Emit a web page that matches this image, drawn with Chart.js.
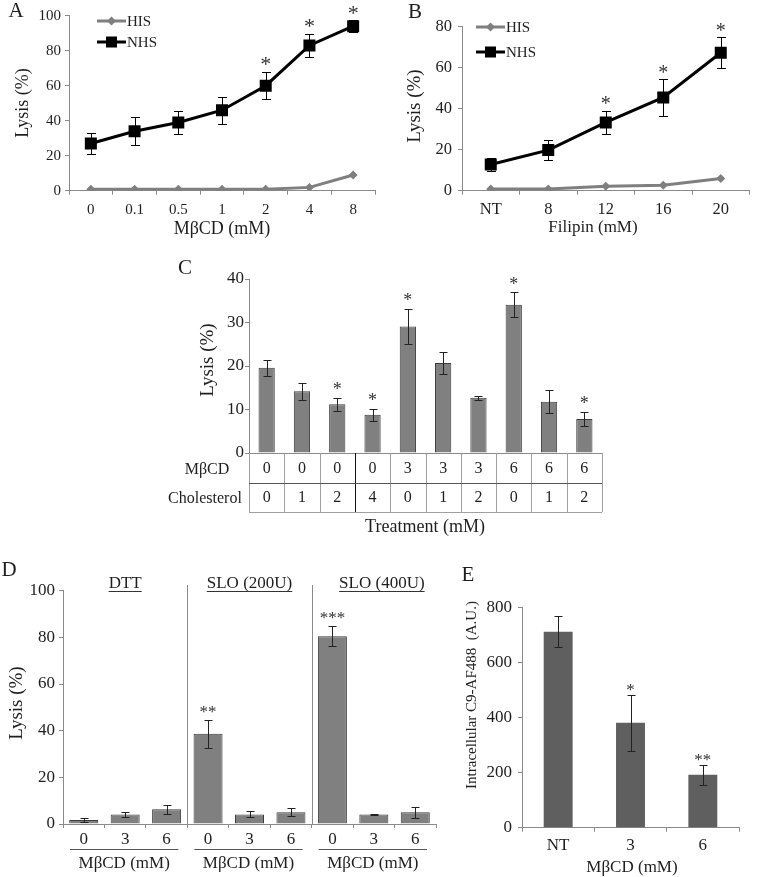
<!DOCTYPE html>
<html>
<head>
<meta charset="utf-8">
<script src="https://cdn.jsdelivr.net/npm/chart.js@4.4.0/dist/chart.umd.min.js"></script>
<style>
  html, body { margin: 0; padding: 0; background: #fff; }
  #wrap { position: relative; width: 758px; height: 877px; overflow: hidden; }
  #wrap canvas { position: absolute; left: 0; top: 0; }
</style>
</head>
<body>
<div id="wrap"></div>
<script>
// ---- data ----
const aLabels = ['0', '0.1', '0.5', '1', '2', '4', '8'];
const aHIS = [0.8, 0.8, 0.8, 0.8, 0.8, 1.9, 9];
const aNHS = [27, 34, 39, 46, 60, 83, 94];
const aNHSErr = [6, 8.1, 6.7, 7.6, 7.8, 6.5, 3.4];
const aStars = ['', '', '', '', '*', '*', '*'];

const bLabels = ['NT', '8', '12', '16', '20'];
const bHIS = [0.8, 0.8, 2.2, 2.7, 6];
const bNHS = [12.8, 19.8, 33.3, 45.5, 67.3];
const bNHSErr = [3.2, 4.9, 5.7, 8.9, 7.6];
const bStars = ['', '', '*', '*', '*'];

const cMbcd = ['0', '0', '0', '0', '3', '3', '3', '6', '6', '6'];
const cChol = ['0', '1', '2', '4', '0', '1', '2', '0', '1', '2'];
const cLysis = [19.6, 14.2, 11.2, 8.8, 29.1, 20.7, 12.7, 34.1, 11.8, 7.8];
const cErr = [1.8, 2.0, 1.5, 1.4, 4.0, 2.5, 0.5, 2.9, 2.6, 1.7];
const cStars = ['', '', '*', '*', '*', '', '', '*', '', '*'];

const dGroups = ['DTT', 'SLO (200U)', 'SLO (400U)'];
const dLabels = ['0', '3', '6', '0', '3', '6', '0', '3', '6'];
const dLysis = [1.7, 4.1, 6.3, 38.7, 4.1, 5.0, 80.5, 4.1, 5.0];
const dErr = [0.7, 1.0, 1.8, 6.0, 1.3, 1.7, 4.2, 0.3, 2.4];
const dStars = ['', '', '', '**', '', '', '***', '', ''];

const eLabels = ['NT', '3', '6'];
const eC9 = [713, 382, 193];
const eErr = [57, 102, 36];
const eStars = ['', '*', '**'];

// ---- common settings ----
const W = 758, H = 877;
const serif = "'Liberation Serif', 'Times New Roman', serif";
const textColor = '#1e1e1e';
const axisColor = '#8a8a8a';
const hisColor = '#7f7f7f';

Chart.defaults.font.family = serif;
Chart.defaults.color = textColor;
Chart.defaults.animation = false;
Chart.defaults.plugins.legend.display = false;
Chart.defaults.plugins.tooltip.enabled = false;

function makeCanvas(id) {
    const c = document.createElement('canvas');
    c.id = id;
    c.width = W;
    c.height = H;
    document.getElementById('wrap').appendChild(c);
    return c;
}

// put the plot area at a fixed place on the page
function frame(area, yW, xH) {
    return {
        padding: {
            left: area.left - yW,
            top: area.top,
            right: W - area.right,
            bottom: H - area.bottom - xH
        }
    };
}

function xAxis(size, pad, xH, showTicks) {
    return {
        type: 'category',
        offset: true,
        grid: { offset: true, drawOnChartArea: false, drawTicks: showTicks, tickLength: 4, color: axisColor },
        border: { color: axisColor, width: 1 },
        ticks: { display: showTicks, font: { size: size }, color: textColor, padding: pad, maxRotation: 0, autoSkip: false },
        afterFit: s => { s.height = xH; }
    };
}

function yAxis(max, step, size, pad, yW) {
    return {
        min: 0,
        max: max,
        grid: { drawOnChartArea: false, drawTicks: true, tickLength: 4, color: axisColor },
        border: { color: axisColor, width: 1 },
        ticks: { stepSize: step, font: { size: size }, color: textColor, padding: pad },
        afterFit: s => { s.width = yW; }
    };
}

function drawText(ctx, str, x, y, size, align) {
    ctx.save();
    ctx.font = size + 'px ' + serif;
    ctx.fillStyle = textColor;
    ctx.textAlign = align || 'center';
    ctx.textBaseline = 'middle';
    ctx.fillText(str, x, y);
    ctx.restore();
}

function drawVText(ctx, str, x, y, size) {
    ctx.save();
    ctx.translate(x, y);
    ctx.rotate(-Math.PI / 2);
    drawText(ctx, str, 0, 0, size);
    ctx.restore();
}

function drawErrors(chart, dsIndex, values, errs, cap, color) {
    const ctx = chart.ctx;
    const y = chart.scales.y;
    const meta = chart.getDatasetMeta(dsIndex);
    ctx.save();
    ctx.strokeStyle = color;
    ctx.lineWidth = 1;
    values.forEach((v, i) => {
        if (!errs[i]) return;
        const x = Math.round(meta.data[i].x) + 0.5;
        const top = Math.round(y.getPixelForValue(v + errs[i])) + 0.5;
        const bot = Math.round(y.getPixelForValue(v - errs[i])) + 0.5;
        ctx.beginPath();
        ctx.moveTo(x, top); ctx.lineTo(x, bot);
        ctx.moveTo(x - cap, top); ctx.lineTo(x + cap, top);
        ctx.moveTo(x - cap, bot); ctx.lineTo(x + cap, bot);
        ctx.stroke();
    });
    ctx.restore();
}

function drawStars(chart, dsIndex, values, errs, stars, gap, size) {
    const ctx = chart.ctx;
    const y = chart.scales.y;
    const meta = chart.getDatasetMeta(dsIndex);
    stars.forEach((s, i) => {
        if (!s) return;
        const centre = y.getPixelForValue(values[i] + errs[i]) - gap;
        ctx.save();
        ctx.font = size + 'px ' + serif;
        ctx.fillStyle = '#333';
        ctx.textAlign = 'center';
        ctx.textBaseline = 'alphabetic';
        // the asterisk glyph sits high in the em box
        ctx.fillText(s, meta.data[i].x, centre + 0.47 * size);
        ctx.restore();
    });
}

function drawLegend(chart, x0, x1, y0, dy, size) {
    const ctx = chart.ctx;
    chart.data.datasets.forEach((ds, k) => {
        const y = y0 + k * dy;
        const mx = (x0 + x1) / 2;
        ctx.save();
        ctx.strokeStyle = ds.borderColor;
        ctx.fillStyle = ds.backgroundColor;
        ctx.lineWidth = 3;
        ctx.beginPath();
        ctx.moveTo(x0, y);
        ctx.lineTo(x1, y);
        ctx.stroke();
        if (ds.pointStyle === 'rect') {
            ctx.fillRect(mx - 5.5, y - 5.5, 11, 11);
        } else {
            ctx.beginPath();
            ctx.moveTo(mx, y - 4.5); ctx.lineTo(mx + 4.5, y);
            ctx.lineTo(mx, y + 4.5); ctx.lineTo(mx - 4.5, y);
            ctx.closePath();
            ctx.fill();
        }
        ctx.restore();
        drawText(ctx, ds.label, x1 + 1, y + 1, size, 'left');
    });
}

function hisDataset(data) {
    return {
        label: 'HIS', data: data, borderColor: hisColor, backgroundColor: hisColor,
        borderWidth: 3, pointStyle: 'rectRot', pointRadius: 4.5, pointBorderWidth: 0, tension: 0
    };
}
function nhsDataset(data) {
    return {
        label: 'NHS', data: data, borderColor: '#000', backgroundColor: '#000',
        borderWidth: 3, pointStyle: 'rect', pointRadius: 8.5, pointBorderWidth: 0, tension: 0
    };
}

function buildCharts() {
    // ---- A ----
    new Chart(makeCanvas('chartA'), {
        type: 'line',
        data: { labels: aLabels, datasets: [hisDataset(aHIS), nhsDataset(aNHS)] },
        options: {
            responsive: false,
            layout: frame({ left: 69, right: 375, top: 15.7, bottom: 190.7 }, 40, 40),
            scales: { x: xAxis(15, 6, 40, true), y: yAxis(100, 20, 15, 4, 40) }
        },
        plugins: [{
            id: 'decorA',
            beforeDatasetsDraw(chart) { drawErrors(chart, 1, aNHS, aNHSErr, 4.5, '#000'); },
            afterDraw(chart) {
                const ctx = chart.ctx;
                drawStars(chart, 1, aNHS, aNHSErr, aStars, 11, 22);
                drawLegend(chart, 97, 126, 21, 21, 15);
                drawVText(ctx, 'Lysis (%)', 23, 103, 18);
                drawText(ctx, 'MβCD (mM)', 222, 229, 18);
                drawText(ctx, 'A', 16, 11, 21);
            }
        }]
    });

    // ---- B ----
    new Chart(makeCanvas('chartB'), {
        type: 'line',
        data: { labels: bLabels, datasets: [hisDataset(bHIS), nhsDataset(bNHS)] },
        options: {
            responsive: false,
            layout: frame({ left: 462, right: 752, top: 26.7, bottom: 190.7 }, 40, 40),
            scales: { x: xAxis(16.5, 5, 40, true), y: yAxis(80, 20, 16.5, 6, 40) }
        },
        plugins: [{
            id: 'decorB',
            beforeDatasetsDraw(chart) { drawErrors(chart, 1, bNHS, bNHSErr, 4.5, '#000'); },
            afterDraw(chart) {
                const ctx = chart.ctx;
                drawStars(chart, 1, bNHS, bNHSErr, bStars, 10, 20);
                drawLegend(chart, 476, 505, 27, 25, 15);
                drawVText(ctx, 'Lysis (%)', 415, 106, 19);
                drawText(ctx, 'Filipin (mM)', 593, 228, 17);
                drawText(ctx, 'B', 415, 12, 21);
            }
        }]
    });

    // ---- C ----
    new Chart(makeCanvas('chartC'), {
        type: 'bar',
        data: {
            labels: cMbcd.map((m, i) => m + '/' + cChol[i]),
            datasets: [{
                data: cLysis, backgroundColor: '#808080', borderColor: '#3c3c3c', borderWidth: 1,
                barPercentage: 0.46, categoryPercentage: 1
            }]
        },
        options: {
            responsive: false,
            layout: frame({ left: 249, right: 602, top: 279, bottom: 453 }, 40, 70),
            scales: { x: xAxis(16, 4, 70, false), y: yAxis(40, 10, 17, 1, 40) }
        },
        plugins: [{
            id: 'decorC',
            afterDatasetsDraw(chart) { drawErrors(chart, 0, cLysis, cErr, 4, '#222'); },
            afterDraw(chart) {
                const ctx = chart.ctx;
                const x = chart.scales.x;
                const top = chart.chartArea.bottom;
                const mid = top + 29.5, bot = top + 59;
                const half = (x.getPixelForValue(1) - x.getPixelForValue(0)) / 2;
                ctx.save();
                ctx.lineWidth = 1;
                // table column lines
                for (let i = 0; i <= cMbcd.length; i++) {
                    const bx = Math.round(x.getPixelForValue(0) - half + i * 2 * half) + 0.5;
                    ctx.strokeStyle = i === 3 ? '#111' : '#a0a0a0';
                    ctx.beginPath();
                    ctx.moveTo(bx, top); ctx.lineTo(bx, bot);
                    ctx.stroke();
                }
                ctx.strokeStyle = '#555';
                ctx.beginPath();
                ctx.moveTo(x.left, Math.round(mid) + 0.5); ctx.lineTo(x.right, Math.round(mid) + 0.5);
                ctx.stroke();
                ctx.strokeStyle = '#a0a0a0';
                ctx.beginPath();
                ctx.moveTo(x.left, Math.round(bot) + 0.5); ctx.lineTo(x.right, Math.round(bot) + 0.5);
                ctx.stroke();
                ctx.restore();
                cMbcd.forEach((v, i) => {
                    const px = x.getPixelForValue(i);
                    drawText(ctx, v, px, top + 16, 16);
                    drawText(ctx, cChol[i], px, mid + 15, 16);
                });
                drawText(ctx, 'MβCD', 207, top + 17, 16);
                drawText(ctx, 'Cholesterol', 205, mid + 16, 16);
                drawStars(chart, 0, cLysis, cErr, cStars, 11, 18);
                drawText(ctx, 'Treatment (mM)', 425, 527, 18);
                drawVText(ctx, 'Lysis (%)', 208, 360, 19);
                drawText(ctx, 'C', 185, 268, 21);
            }
        }]
    });

    // ---- D ----
    new Chart(makeCanvas('chartD'), {
        type: 'bar',
        data: {
            labels: dLabels,
            datasets: [{
                data: dLysis, backgroundColor: '#808080', borderColor: '#3c3c3c', borderWidth: 1,
                barPercentage: 0.7, categoryPercentage: 1
            }]
        },
        options: {
            responsive: false,
            layout: frame({ left: 63, right: 436, top: 590.7, bottom: 824 }, 40, 30),
            scales: { x: xAxis(17, 1, 30, true), y: yAxis(100, 20, 17, 4, 40) }
        },
        plugins: [{
            id: 'decorD',
            afterDatasetsDraw(chart) { drawErrors(chart, 0, dLysis, dErr, 4, '#222'); },
            afterDraw(chart) {
                const ctx = chart.ctx;
                const x = chart.scales.x;
                const half = (x.getPixelForValue(1) - x.getPixelForValue(0)) / 2;
                ctx.save();
                ctx.lineWidth = 1;
                ctx.strokeStyle = axisColor;
                [3, 6].forEach(k => {
                    const bx = Math.round(x.getPixelForValue(k) - half) + 0.5;
                    ctx.beginPath();
                    ctx.moveTo(bx, 585); ctx.lineTo(bx, chart.chartArea.bottom);
                    ctx.stroke();
                });
                ctx.restore();
                dGroups.forEach((g, k) => {
                    const left = x.getPixelForValue(3 * k) - half;
                    const right = x.getPixelForValue(3 * k + 2) + half;
                    const cx = x.getPixelForValue(3 * k + 1) + (k === 2 ? 8 : 0);
                    // group title, underlined
                    drawText(ctx, g, cx, 584, 17);
                    ctx.save();
                    ctx.font = '17px ' + serif;
                    const w = ctx.measureText(g).width;
                    ctx.strokeStyle = '#333';
                    ctx.lineWidth = 1;
                    ctx.beginPath();
                    ctx.moveTo(cx - w / 2, 591.5); ctx.lineTo(cx + w / 2, 591.5);
                    ctx.stroke();
                    // group line under the tick labels
                    ctx.strokeStyle = '#555';
                    ctx.beginPath();
                    ctx.moveTo(left + 7, 849.5); ctx.lineTo(right - 9, 849.5);
                    ctx.stroke();
                    ctx.restore();
                    drawText(ctx, 'MβCD (mM)', (left + right) / 2 - 1, 864, 17);
                });
                drawStars(chart, 0, dLysis, dErr, dStars, 11, 17);
                drawVText(ctx, 'Lysis (%)', 17, 703, 19);
                drawText(ctx, 'D', 9, 570, 21);
            }
        }]
    });

    // ---- E ----
    new Chart(makeCanvas('chartE'), {
        type: 'bar',
        data: {
            labels: eLabels,
            datasets: [{
                data: eC9, backgroundColor: '#5f5f5f', borderColor: '#5f5f5f', borderWidth: 0,
                barPercentage: 0.4, categoryPercentage: 1
            }]
        },
        options: {
            responsive: false,
            layout: frame({ left: 522, right: 739, top: 607.7, bottom: 827.7 }, 45, 30),
            scales: { x: xAxis(17, 4, 30, true), y: yAxis(800, 200, 17, 6, 45) }
        },
        plugins: [{
            id: 'decorE',
            afterDatasetsDraw(chart) { drawErrors(chart, 0, eC9, eErr, 4, '#222'); },
            afterDraw(chart) {
                const ctx = chart.ctx;
                drawStars(chart, 0, eC9, eErr, eStars, 8, 17);
                drawText(ctx, 'MβCD (mM)', 632, 868, 17);
                drawVText(ctx, 'Intracellular C9-AF488  (A.U.)', 472, 695, 15);
                drawText(ctx, 'E', 468, 575, 21);
            }
        }]
    });
}

buildCharts();
</script>
</body>
</html>
